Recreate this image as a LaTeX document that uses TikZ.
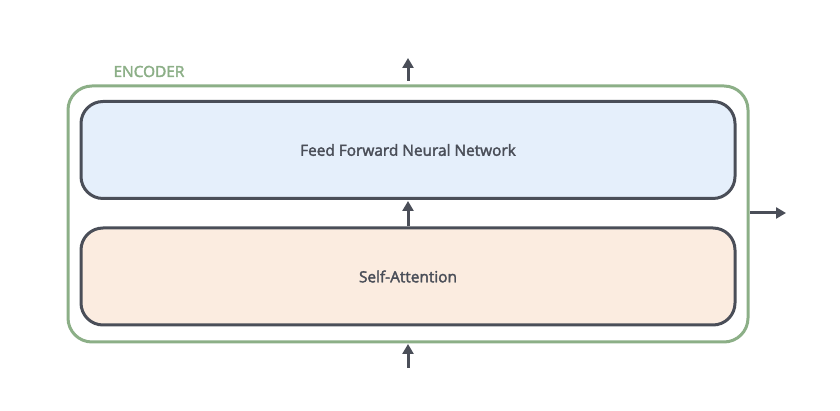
\documentclass[tikz,border=0pt]{standalone}
\usepackage{fontspec}
\setmainfont{Open Sans}
\newcommand{\heavytext}[1]{\special{pdf:literal direct 2 Tr 0.35 w}#1\special{pdf:literal direct 0 Tr}}
\usetikzlibrary{arrows.meta}
\definecolor{encgreen}{HTML}{8CAF87}
\definecolor{darkline}{HTML}{4A4E58}
\definecolor{ffnfill}{HTML}{E5EFFB}
\definecolor{safill}{HTML}{FBECE0}
\tikzset{
  enc/.style={draw=encgreen, line width=3pt, rounded corners=24pt},
  layerbox/.style={draw=darkline, line width=3pt, rounded corners=22pt, minimum width=654pt, minimum height=97pt, font=\fontsize{15.4}{17}\selectfont, text=darkline},
  flow/.style={draw=darkline, line width=3pt, -{Triangle[width=11pt,length=10pt]}},
  enclabel/.style={font=\fontsize{15.4}{17}\selectfont, text=encgreen, anchor=base west}
}
\begin{document}
\begin{tikzpicture}[x=1pt,y=1pt]
\useasboundingbox (0,0) rectangle (840,411);
\draw[enc] (68,69) rectangle (748,325);
\node[enclabel] (lbl) at (110,334) {\heavytext{ENCODER}};
\node[layerbox, fill=ffnfill] (ffn) at (408,261) {\heavytext{Feed Forward Neural Network}};
\node[layerbox, fill=safill] (sa) at (408,134.5) {\heavytext{Self-Attention}};
\coordinate (inb) at (408,43);
\coordinate (ine) at (408,67);
\coordinate (outb) at (408,330);
\coordinate (oute) at (408,353);
\coordinate (rb) at (750,198);
\coordinate (re) at (786,198);
\draw[flow] (inb) -- (ine);
\draw[flow] (sa.north) -- ([yshift=-1pt]ffn.south);
\draw[flow] (outb) -- (oute);
\draw[flow] (rb) -- (re);
\end{tikzpicture}
\end{document}
